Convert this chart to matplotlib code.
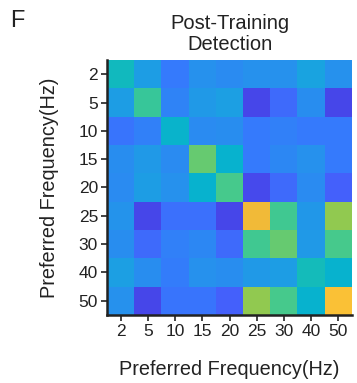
import matplotlib
matplotlib.use("Agg")
import matplotlib.pyplot as plt
import numpy as np
from matplotlib.colors import LinearSegmentedColormap

# preferred frequencies (rows and columns)
freqs = ["2", "5", "10", "15", "20", "25", "30", "40", "50"]

# normalised detection values (row = y, col = x)
row_2 = [0.44, 0.31, 0.20, 0.27, 0.25, 0.27, 0.27, 0.33, 0.27]
row_5 = [0.31, 0.51, 0.23, 0.30, 0.32, 0.09, 0.17, 0.26, 0.09]
row_10 = [0.19, 0.22, 0.41, 0.25, 0.26, 0.20, 0.22, 0.20, 0.20]
row_15 = [0.26, 0.30, 0.25, 0.57, 0.40, 0.20, 0.24, 0.27, 0.20]
row_20 = [0.25, 0.31, 0.27, 0.40, 0.53, 0.10, 0.17, 0.25, 0.15]
row_25 = [0.28, 0.09, 0.18, 0.18, 0.09, 0.73, 0.52, 0.29, 0.62]
row_30 = [0.26, 0.17, 0.22, 0.24, 0.17, 0.52, 0.57, 0.30, 0.53]
row_40 = [0.32, 0.26, 0.21, 0.27, 0.26, 0.30, 0.31, 0.45, 0.40]
row_50 = [0.27, 0.09, 0.19, 0.19, 0.15, 0.62, 0.53, 0.40, 0.78]

rows = [row_2, row_5, row_10, row_15, row_20, row_25, row_30, row_40, row_50]

# rough parula
PARULA = [
    (0.00, (0.2422, 0.1504, 0.6603)),
    (0.08, (0.2770, 0.2580, 0.9000)),
    (0.14, (0.2780, 0.3600, 0.9850)),
    (0.20, (0.2100, 0.4800, 0.9900)),
    (0.27, (0.1500, 0.5700, 0.9300)),
    (0.33, (0.1000, 0.6400, 0.8800)),
    (0.40, (0.0300, 0.7000, 0.8100)),
    (0.47, (0.1000, 0.7500, 0.7000)),
    (0.53, (0.2800, 0.7900, 0.5500)),
    (0.60, (0.5000, 0.8000, 0.3500)),
    (0.67, (0.7500, 0.7700, 0.2300)),
    (0.73, (0.9500, 0.7300, 0.2200)),
    (0.80, (0.9950, 0.7700, 0.2100)),
    (0.90, (0.9600, 0.8800, 0.1500)),
    (1.00, (0.9763, 0.9831, 0.0538)),
]
cmap = LinearSegmentedColormap.from_list("parula", PARULA)

plt.rcParams["font.family"] = ["Liberation Sans", "DejaVu Sans"]
TXT = "#222222"

fig = plt.figure(figsize=(3.57, 3.83), dpi=100)
ax = fig.add_axes([0.300, 0.178, 0.686, 0.665])

ax.imshow(np.array(rows), cmap=cmap, vmin=0, vmax=1, aspect="auto",
          interpolation="nearest")

ax.set_xticks(range(len(freqs)))
ax.set_xticklabels(freqs, fontsize=12.5, color=TXT)
ax.set_yticks(range(len(freqs)))
ax.set_yticklabels(freqs, fontsize=12.5, color=TXT)
ax.tick_params(direction="out", length=4, width=1.2, color=TXT, pad=2.5)

for side in ["top", "right"]:
    ax.spines[side].set_visible(False)
for side in ["left", "bottom"]:
    ax.spines[side].set_linewidth(1.8)
    ax.spines[side].set_color(TXT)

ax.set_xlabel("Preferred Frequency(Hz)", fontsize=14.3, labelpad=15,
              color=TXT)
ax.set_ylabel("Preferred Frequency(Hz)", fontsize=14.3, labelpad=14,
              color=TXT)
ax.set_title("Post-Training\nDetection", fontsize=14.5, pad=7,
             linespacing=1.15, color=TXT)

fig.text(0.028, 0.975, "F", fontsize=17, va="top", ha="left", color=TXT)

fig.savefig("out.png", dpi=100, facecolor="white")
